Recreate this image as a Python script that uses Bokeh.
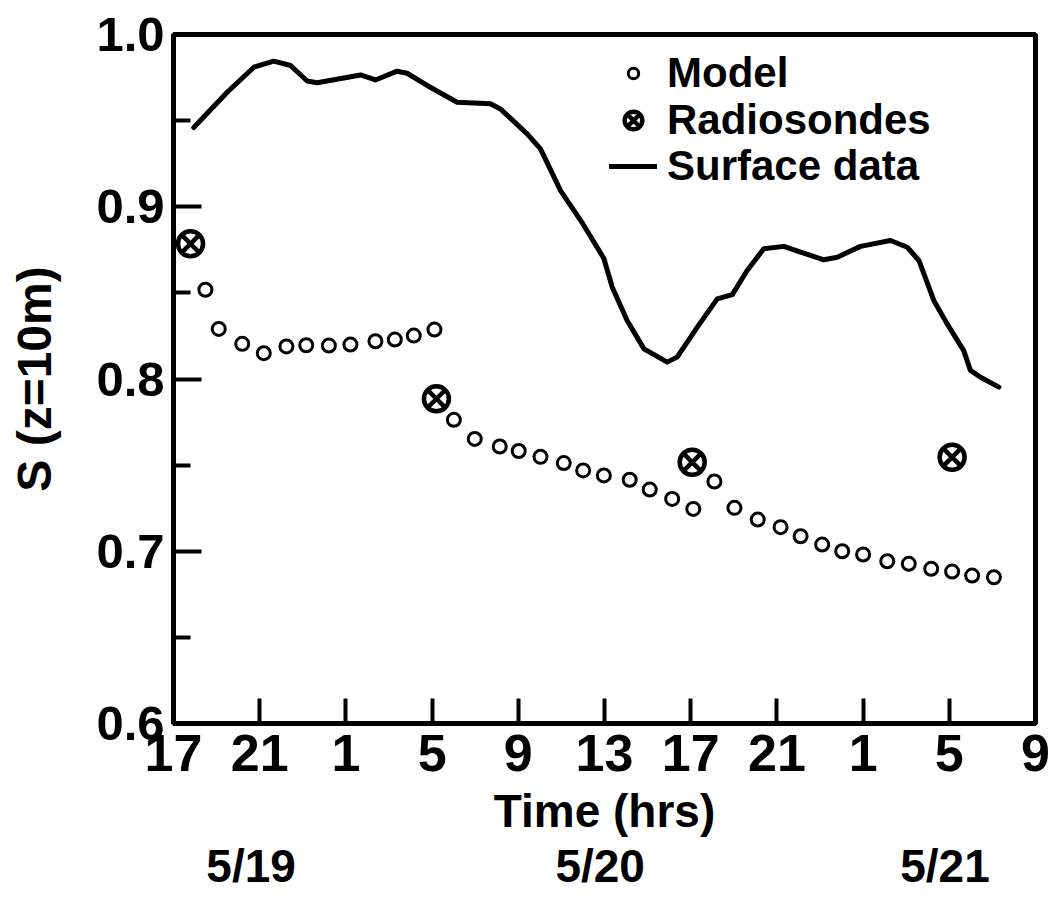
from bokeh.plotting import figure
from bokeh.models import Range1d, LinearAxis, FixedTicker, Legend, LegendItem
from bokeh.embed import file_html
from bokeh.resources import INLINE

# ---- data (hours elapsed since 17:00 on 5/19) ----
surface_hours = [0.94, 2.49, 3.73, 4.65, 5.43, 6.2, 6.67, 8.68, 9.37, 10.38, 10.84, 11.77,
                 13.16, 14.71, 15.17, 16.41, 17.03, 17.96, 19.0, 19.97, 20.36, 21.05, 21.83,
                 22.91, 23.37, 24.3, 25.23, 25.93, 26.62, 27.39, 28.32, 29.1, 30.18, 30.8,
                 31.88, 33.27, 34.05, 34.59, 35.28, 35.9, 36.67, 36.98, 37.45, 38.3]
surface_S = [0.946, 0.9665, 0.981, 0.9845, 0.982, 0.973, 0.972, 0.9765, 0.9736, 0.9787, 0.9775,
             0.9704, 0.9607, 0.9598, 0.9568, 0.9423, 0.9336, 0.9094, 0.890, 0.870, 0.8533,
             0.834, 0.8175, 0.8098, 0.8127, 0.830, 0.8465, 0.849, 0.863, 0.8756, 0.877,
             0.8736, 0.8692, 0.8707, 0.877, 0.8804, 0.8765, 0.8688, 0.8456, 0.832, 0.8165,
             0.805, 0.801, 0.7953]

model_hours = [1.48, 2.1, 3.19, 4.19, 5.24, 6.16, 7.21, 8.21, 9.37, 10.27, 11.15, 12.11,
               13.01, 13.98, 15.14, 16.02, 17.03, 18.11, 19.01, 19.97, 21.17, 22.1, 23.14,
               24.12, 25.1, 26.03, 27.11, 28.17, 29.1, 30.1, 31.03, 32.0, 33.12, 34.12,
               35.16, 36.13, 37.06, 38.07]
model_S = [0.8518, 0.8291, 0.8204, 0.815, 0.8189, 0.8196, 0.8194, 0.820, 0.8219, 0.8229,
           0.8252, 0.8287, 0.7763, 0.7652, 0.7608, 0.7582, 0.7548, 0.7512, 0.7469, 0.744,
           0.7415, 0.7358, 0.7304, 0.7246, 0.7405, 0.7252, 0.7184, 0.714, 0.7087, 0.7039,
           0.700, 0.6981, 0.6942, 0.6927, 0.6898, 0.6882, 0.6859, 0.6849]

sonde_hours = [0.79, 12.2, 24.07, 36.13]
sonde_S = [0.8785, 0.7885, 0.7517, 0.7546]

x_tick_hours = [0, 4, 8, 12, 16, 20, 24, 28, 32, 36, 40]
x_tick_labels = ["17", "21", "1", "5", "9", "13", "17", "21", "1", "5", "9"]
y_ticks = [0.6, 0.7, 0.8, 0.9, 1.0]
y_tick_labels = ["0.6", "0.7", "0.8", "0.9", "1.0"]
y_minor_ticks = [0.65, 0.75, 0.85, 0.95]
date_labels = ["5/19", "5/20", "5/21"]
date_label_hours = [3.6, 19.8, 35.8]

FONT = "Liberation Sans"

p = figure(frame_width=862, frame_height=689, output_backend="svg", toolbar_location=None,
           x_range=Range1d(0, 40), y_range=Range1d(0.6, 1.0),
           min_border_left=173, min_border_right=15, min_border_top=34, min_border_bottom=173)
p.xgrid.visible = False
p.ygrid.visible = False
p.outline_line_color = "black"
p.outline_line_width = 5
p.background_fill_color = "white"
p.border_fill_color = "white"

# x axis
xa = p.xaxis[0]
xa.ticker = FixedTicker(ticks=x_tick_hours, minor_ticks=[])
xa.major_label_overrides = {h: l for h, l in zip(x_tick_hours, x_tick_labels)}
xa.axis_line_width = 5
xa.major_tick_in = 25
xa.major_tick_out = 0
xa.major_tick_line_width = 4
xa.minor_tick_line_color = None
xa.major_label_text_font = FONT
xa.major_label_text_font_style = "bold"
xa.major_label_text_font_size = "52px"
xa.major_label_text_color = "black"
xa.major_label_standoff = 11
xa.axis_label = "Time (hrs)"
xa.axis_label_text_font = FONT
xa.axis_label_text_font_style = "bold"
xa.axis_label_text_font_size = "46px"
xa.axis_label_text_color = "black"
xa.axis_label_standoff = 11

# y axis
ya = p.yaxis[0]
ya.ticker = FixedTicker(ticks=y_ticks, minor_ticks=y_minor_ticks)
ya.major_label_overrides = {t: l for t, l in zip(y_ticks, y_tick_labels)}
ya.axis_line_width = 5
ya.major_tick_in = 28
ya.major_tick_out = 0
ya.major_tick_line_width = 4
ya.minor_tick_in = 17
ya.minor_tick_out = 0
ya.minor_tick_line_width = 4
ya.major_label_text_font = FONT
ya.major_label_text_font_style = "bold"
ya.major_label_text_font_size = "49px"
ya.major_label_text_color = "black"
ya.major_label_standoff = 9
ya.axis_label = "S (z=10m)"
ya.axis_label_text_font = FONT
ya.axis_label_text_font_style = "bold"
ya.axis_label_text_font_size = "48px"
ya.axis_label_text_color = "black"
ya.axis_label_standoff = 32

# date row as a second axis below
da = LinearAxis(ticker=FixedTicker(ticks=date_label_hours, minor_ticks=[]),
                major_label_overrides={h: l for h, l in zip(date_label_hours, date_labels)},
                axis_line_color=None, major_tick_line_color=None, minor_tick_line_color=None,
                major_tick_in=0, major_tick_out=0, minor_tick_in=0, minor_tick_out=0,
                major_label_text_font=FONT, major_label_text_font_style="bold",
                major_label_text_font_size="46px", major_label_text_color="black",
                major_label_standoff=0)
p.add_layout(da, "below")

# data
r_line = p.line(surface_hours, surface_S, line_color="black", line_width=5,
                line_join="round", line_cap="round")
r_model = p.scatter(model_hours, model_S, marker="circle", size=13, fill_color="white",
                    line_color="black", line_width=3)
r_sonde = p.scatter(sonde_hours, sonde_S, marker="circle_x", size=25, fill_color="white",
                    line_color="black", line_width=4.5)

# key: one legend per entry so each symbol gets its own size
common = dict(glyph_width=48, label_standoff=10, spacing=0, padding=0, margin=0,
              label_text_font=FONT, label_text_font_style="bold",
              label_text_font_size="42px", label_text_color="black",
              border_line_color=None, background_fill_alpha=0)
leg_model = Legend(items=[LegendItem(label="Model", renderers=[r_model])],
                   location=(436, 626), glyph_height=26, **common)
leg_sonde = Legend(items=[LegendItem(label="Radiosondes", renderers=[r_sonde])],
                   location=(436, 579), glyph_height=44, **common)
leg_line = Legend(items=[LegendItem(label="Surface data", renderers=[r_line])],
                  location=(436, 533), glyph_height=30, **common)
for lg in (leg_model, leg_sonde, leg_line):
    p.add_layout(lg)

open("out.html", "w").write(file_html(p, INLINE))
